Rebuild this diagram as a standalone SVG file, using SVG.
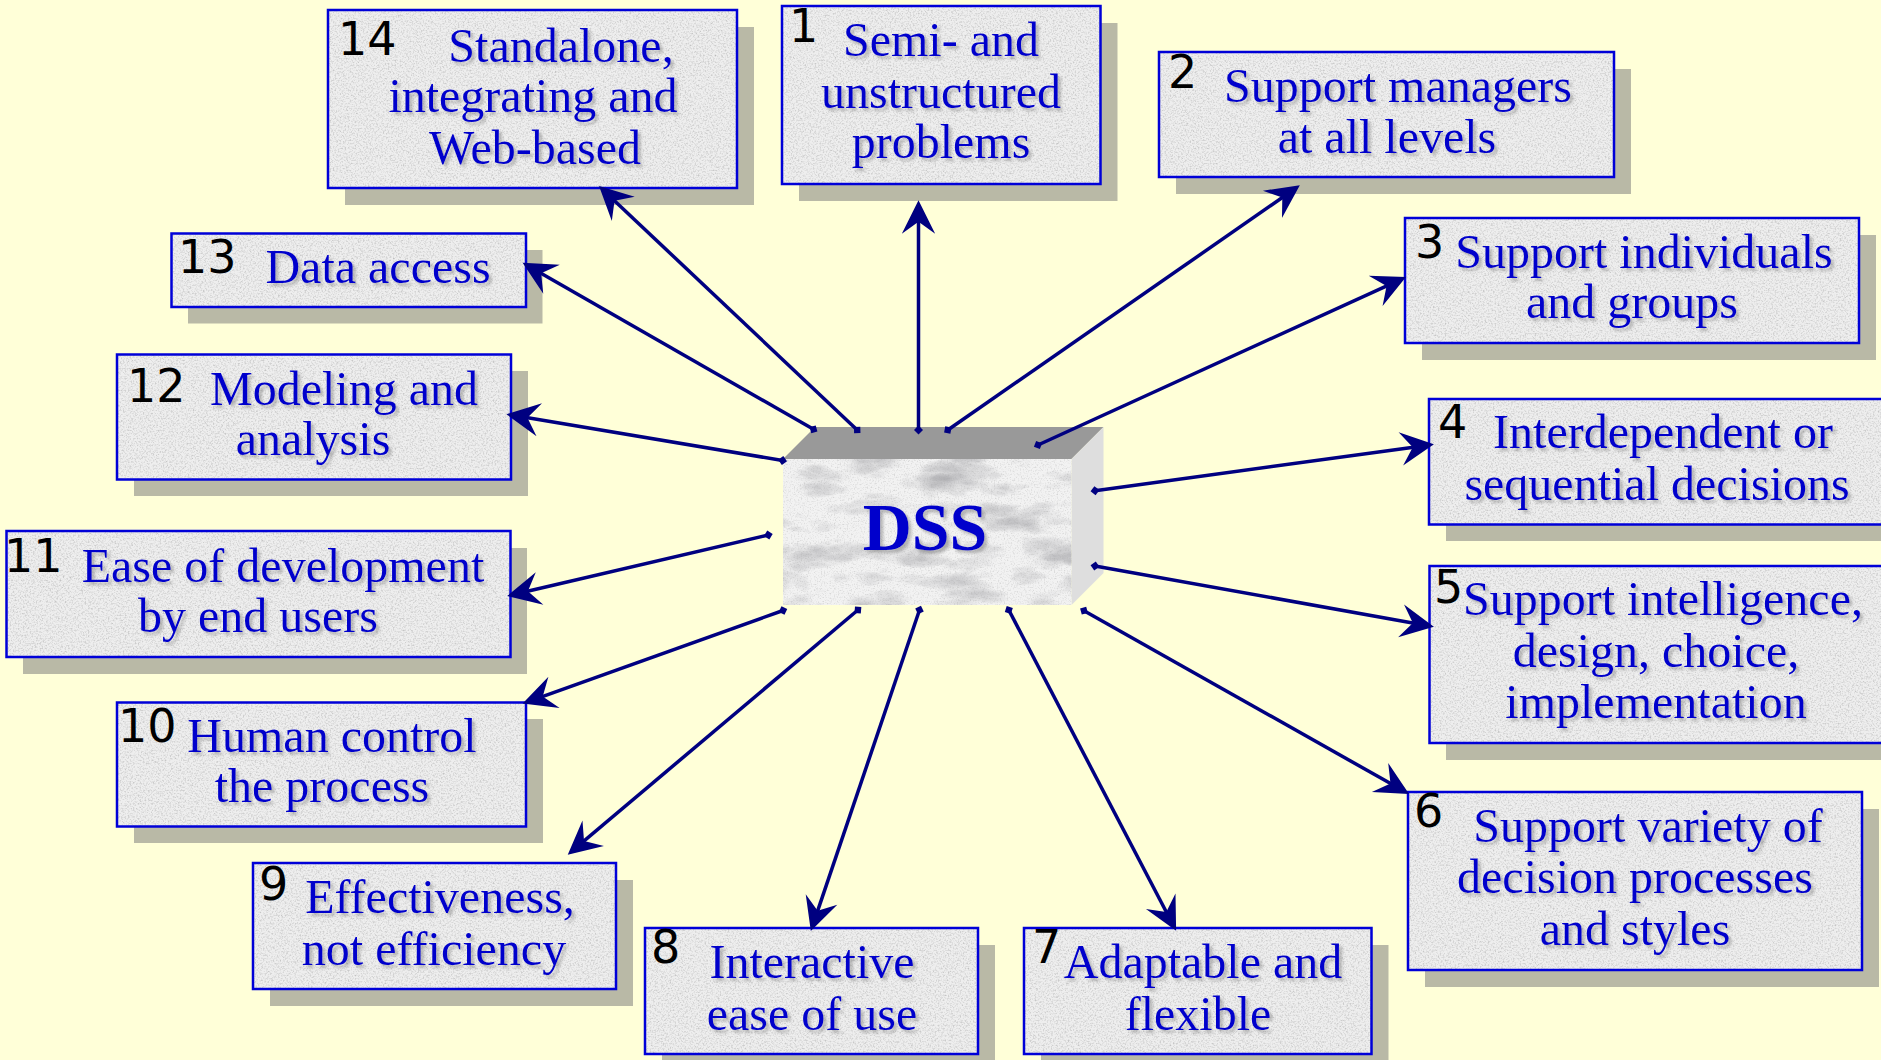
<svg xmlns="http://www.w3.org/2000/svg" width="1881" height="1060" viewBox="0 0 1881 1060">
  <defs>
    <style>
      .shadow { fill: #b9b9a6; }
      .card { fill: #eeeeee; }
      .frame { fill: none; stroke: #0000d8; stroke-width: 2.5; }
      .num { font-family: "DejaVu Sans", sans-serif; font-size: 46px; fill: #000; }
      .lbl { font-family: "Liberation Serif", "Times New Roman", serif; font-size: 48px; fill: #0000cc; text-anchor: middle; }
      .link { fill: none; stroke: #000080; stroke-width: 3.5; marker-start: url(#knob); marker-end: url(#head); }
    </style>
    <!-- speckled grey card surface -->
    <filter id="grain" x="0" y="0" width="1" height="1" color-interpolation-filters="sRGB">
      <feTurbulence type="fractalNoise" baseFrequency="0.6" numOctaves="3" seed="7" result="noise"/>
      <feColorMatrix in="noise" type="matrix" values="0 0 0 0 0.68  0 0 0 0 0.68  0 0 0 0 0.68  1.5 0 0 0 -0.68" result="speck"/>
      <feComposite in="speck" in2="SourceGraphic" operator="in" result="clip"/>
      <feMerge><feMergeNode in="SourceGraphic"/><feMergeNode in="clip"/></feMerge>
    </filter>
    <!-- marble face of the central block -->
    <filter id="marble" x="0" y="0" width="1" height="1" color-interpolation-filters="sRGB">
      <feTurbulence type="turbulence" baseFrequency="0.012 0.028" numOctaves="5" seed="11" result="t"/>
      <feColorMatrix in="t" type="matrix" values="0 0 0 0 0.55  0 0 0 0 0.55  0 0 0 0 0.57  1.1 0 0 0 -0.3" result="veins"/>
      <feComposite in="veins" in2="SourceGraphic" operator="in" result="v2"/>
      <feTurbulence type="fractalNoise" baseFrequency="0.7" numOctaves="2" seed="3" result="n"/>
      <feColorMatrix in="n" type="matrix" values="0 0 0 0 0.65  0 0 0 0 0.65  0 0 0 0 0.65  1.0 0 0 0 -0.5" result="sp"/>
      <feComposite in="sp" in2="SourceGraphic" operator="in" result="sp2"/>
      <feMerge><feMergeNode in="SourceGraphic"/><feMergeNode in="v2"/><feMergeNode in="sp2"/></feMerge>
    </filter>
    <!-- soft drop shadow under label text -->
    <filter id="tshadow" x="-5%" y="-15%" width="115%" height="140%">
      <feGaussianBlur in="SourceAlpha" stdDeviation="1.6"/>
      <feOffset dx="2.5" dy="2.5" result="b"/>
      <feFlood flood-color="#707070" flood-opacity="0.45"/>
      <feComposite in2="b" operator="in" result="sh"/>
      <feMerge><feMergeNode in="sh"/><feMergeNode in="SourceGraphic"/></feMerge>
    </filter>
    <marker id="head" markerUnits="userSpaceOnUse" markerWidth="40" markerHeight="40" viewBox="-14 -14 30 28" refX="0" refY="0" orient="auto" overflow="visible">
      <path d="M14,0 L-11,-12.5 L-2,0 L-11,12.5 Z" fill="#000080"/>
    </marker>
    <marker id="knob" markerUnits="userSpaceOnUse" markerWidth="12" markerHeight="12" viewBox="-6 -6 12 12" refX="0" refY="0" orient="auto" overflow="visible">
      <path d="M-4.5,0 L0,-4.5 L4.5,0 L0,4.5 Z" fill="#000080"/>
    </marker>
  </defs>

  <rect x="0" y="0" width="1881" height="1060" fill="#ffffd8"/>

  <!-- central block -->
  <g id="node-dss">
    <polygon points="783,459 815,427 1103.5,427 1071.5,459" fill="#999999"/>
    <polygon points="1071.5,459 1103.5,427 1103.5,573 1071.5,605" fill="#dedede"/>
    <rect x="783" y="459" width="288.5" height="146" fill="#f2f2f2" filter="url(#marble)"/>
    <text x="925" y="550" font-family="Liberation Serif, Times New Roman, serif" font-size="68" font-weight="bold" fill="#0000cc" text-anchor="middle" filter="url(#tshadow)">DSS</text>
  </g>

  <g id="node-14">
    <rect class="shadow" x="345" y="27" width="409" height="178"/>
    <rect class="card" x="328" y="10" width="409" height="178" filter="url(#grain)"/>
    <rect class="frame" x="328" y="10" width="409" height="178"/>
    <text class="num" x="338" y="55">14</text>
    <g filter="url(#tshadow)">
      <text class="lbl" x="561" y="62">Standalone,</text>
      <text class="lbl" x="533" y="112">integrating and</text>
      <text class="lbl" x="535" y="164">Web-based</text>
    </g>
  </g>

  <g id="node-1">
    <rect class="shadow" x="799" y="23" width="318.5" height="178"/>
    <rect class="card" x="782" y="6" width="318.5" height="178" filter="url(#grain)"/>
    <rect class="frame" x="782" y="6" width="318.5" height="178"/>
    <text class="num" x="789" y="42">1</text>
    <g filter="url(#tshadow)">
      <text class="lbl" x="941" y="56">Semi- and</text>
      <text class="lbl" x="941" y="108">unstructured</text>
      <text class="lbl" x="941" y="158">problems</text>
    </g>
  </g>

  <g id="node-2">
    <rect class="shadow" x="1176" y="69" width="455" height="125"/>
    <rect class="card" x="1159" y="52" width="455" height="125" filter="url(#grain)"/>
    <rect class="frame" x="1159" y="52" width="455" height="125"/>
    <text class="num" x="1168" y="88">2</text>
    <g filter="url(#tshadow)">
      <text class="lbl" x="1398" y="102">Support managers</text>
      <text class="lbl" x="1387" y="153">at all levels</text>
    </g>
  </g>

  <g id="node-3">
    <rect class="shadow" x="1422" y="235" width="454" height="125"/>
    <rect class="card" x="1405" y="218" width="454" height="125" filter="url(#grain)"/>
    <rect class="frame" x="1405" y="218" width="454" height="125"/>
    <text class="num" x="1415" y="258">3</text>
    <g filter="url(#tshadow)">
      <text class="lbl" x="1644" y="268">Support individuals</text>
      <text class="lbl" x="1632" y="318">and groups</text>
    </g>
  </g>

  <g id="node-4">
    <rect class="shadow" x="1446" y="416" width="460" height="125"/>
    <rect class="card" x="1429" y="399" width="460" height="125.5" filter="url(#grain)"/>
    <rect class="frame" x="1429" y="399" width="460" height="125.5"/>
    <text class="num" x="1438" y="438">4</text>
    <g filter="url(#tshadow)">
      <text class="lbl" x="1663" y="448">Interdependent or</text>
      <text class="lbl" x="1657" y="500">sequential decisions</text>
    </g>
  </g>

  <g id="node-5">
    <rect class="shadow" x="1446" y="583" width="460" height="177"/>
    <rect class="card" x="1429.5" y="566" width="460" height="177" filter="url(#grain)"/>
    <rect class="frame" x="1429.5" y="566" width="460" height="177"/>
    <text class="num" x="1434" y="603">5</text>
    <g filter="url(#tshadow)">
      <text class="lbl" x="1663" y="615">Support intelligence,</text>
      <text class="lbl" x="1656" y="667">design, choice,</text>
      <text class="lbl" x="1656" y="718">implementation</text>
    </g>
  </g>

  <g id="node-6">
    <rect class="shadow" x="1425" y="809" width="454" height="178"/>
    <rect class="card" x="1408" y="792" width="454" height="178" filter="url(#grain)"/>
    <rect class="frame" x="1408" y="792" width="454" height="178"/>
    <text class="num" x="1414" y="827">6</text>
    <g filter="url(#tshadow)">
      <text class="lbl" x="1648" y="842">Support variety of</text>
      <text class="lbl" x="1635" y="893">decision processes</text>
      <text class="lbl" x="1635" y="945">and styles</text>
    </g>
  </g>

  <g id="node-7">
    <rect class="shadow" x="1041" y="945" width="347.5" height="126"/>
    <rect class="card" x="1024" y="928" width="347.5" height="126" filter="url(#grain)"/>
    <rect class="frame" x="1024" y="928" width="347.5" height="126"/>
    <text class="num" x="1032" y="963">7</text>
    <g filter="url(#tshadow)">
      <text class="lbl" x="1203" y="978">Adaptable and</text>
      <text class="lbl" x="1198" y="1030">flexible</text>
    </g>
  </g>

  <g id="node-8">
    <rect class="shadow" x="662" y="945" width="333" height="126"/>
    <rect class="card" x="645" y="928" width="333" height="126" filter="url(#grain)"/>
    <rect class="frame" x="645" y="928" width="333" height="126"/>
    <text class="num" x="651" y="963">8</text>
    <g filter="url(#tshadow)">
      <text class="lbl" x="812" y="978">Interactive</text>
      <text class="lbl" x="812" y="1030">ease of use</text>
    </g>
  </g>

  <g id="node-9">
    <rect class="shadow" x="270" y="880" width="363" height="126"/>
    <rect class="card" x="253" y="863" width="363" height="126" filter="url(#grain)"/>
    <rect class="frame" x="253" y="863" width="363" height="126"/>
    <text class="num" x="259" y="900">9</text>
    <g filter="url(#tshadow)">
      <text class="lbl" x="440" y="913">Effectiveness,</text>
      <text class="lbl" x="434" y="965">not efficiency</text>
    </g>
  </g>

  <g id="node-10">
    <rect class="shadow" x="134" y="719" width="409" height="124"/>
    <rect class="card" x="117" y="702.5" width="409" height="124" filter="url(#grain)"/>
    <rect class="frame" x="117" y="702.5" width="409" height="124"/>
    <text class="num" x="118" y="742">10</text>
    <g filter="url(#tshadow)">
      <text class="lbl" x="332" y="752">Human control</text>
      <text class="lbl" x="322" y="802">the process</text>
    </g>
  </g>

  <g id="node-11">
    <rect class="shadow" x="23" y="548" width="504" height="126"/>
    <rect class="card" x="6.5" y="531" width="504" height="126" filter="url(#grain)"/>
    <rect class="frame" x="6.5" y="531" width="504" height="126"/>
    <text class="num" x="4" y="572">11</text>
    <g filter="url(#tshadow)">
      <text class="lbl" x="283" y="582">Ease of development</text>
      <text class="lbl" x="258" y="632">by end users</text>
    </g>
  </g>

  <g id="node-12">
    <rect class="shadow" x="134" y="371" width="394" height="125"/>
    <rect class="card" x="117" y="354.5" width="394" height="125" filter="url(#grain)"/>
    <rect class="frame" x="117" y="354.5" width="394" height="125"/>
    <text class="num" x="127" y="402">12</text>
    <g filter="url(#tshadow)">
      <text class="lbl" x="344" y="405">Modeling and</text>
      <text class="lbl" x="313" y="455">analysis</text>
    </g>
  </g>

  <g id="node-13">
    <rect class="shadow" x="188" y="250" width="354.5" height="73.5"/>
    <rect class="card" x="171.5" y="233.5" width="354.5" height="73.5" filter="url(#grain)"/>
    <rect class="frame" x="171.5" y="233.5" width="354.5" height="73.5"/>
    <text class="num" x="178" y="273">13</text>
    <g filter="url(#tshadow)">
      <text class="lbl" x="378" y="283">Data access</text>
    </g>
  </g>

  <!-- spokes from the block to each feature -->
  <g id="connectors">
    <line class="link" x1="918.5" y1="430" x2="918.5" y2="219"/>
    <line class="link" x1="947.8" y1="430" x2="1284.5" y2="196"/>
    <line class="link" x1="1038" y1="445" x2="1389" y2="284.8"/>
    <line class="link" x1="1095" y1="490.7" x2="1415.4" y2="446.9"/>
    <line class="link" x1="1095" y1="566" x2="1415.5" y2="623.5"/>
    <line class="link" x1="1084" y1="610.7" x2="1392.8" y2="784.8"/>
    <line class="link" x1="1008.8" y1="610" x2="1167.5" y2="914.3"/>
    <line class="link" x1="919.5" y1="610" x2="816.8" y2="913.4"/>
    <line class="link" x1="857.9" y1="610" x2="582" y2="842.7"/>
    <line class="link" x1="783" y1="610.5" x2="540.2" y2="697.3"/>
    <line class="link" x1="768.3" y1="535" x2="525.3" y2="591.8"/>
    <line class="link" x1="782.6" y1="460.5" x2="524.8" y2="417.3"/>
    <line class="link" x1="813.5" y1="429.3" x2="538.8" y2="272"/>
    <line class="link" x1="857.2" y1="430" x2="612.6" y2="198.9"/>
  </g>
</svg>
